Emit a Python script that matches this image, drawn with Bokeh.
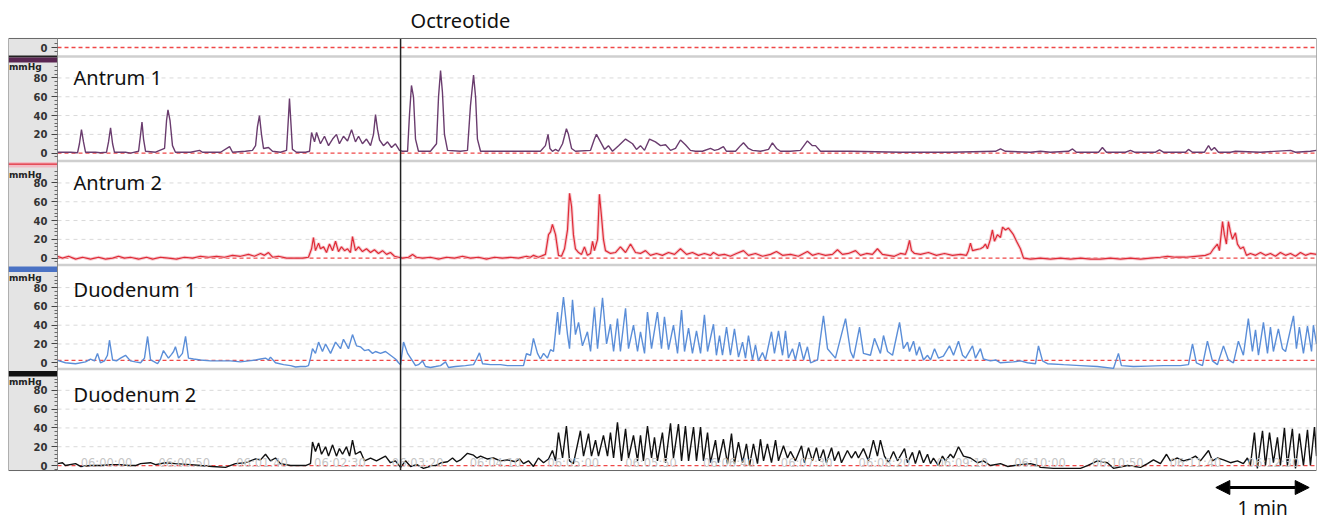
from bokeh.plotting import figure
from bokeh.models import Range1d, FixedTicker, LinearAxis, Arrow, NormalHead
from bokeh.core.properties import value
from bokeh.embed import file_html
from bokeh.resources import INLINE

# ---------------- data (time in s from 06:00:00, pressure in mmHg) ----------------
CHANNELS = ["Antrum 1", "Antrum 2", "Duodenum 1", "Duodenum 2"]
OCTREOTIDE_T = 189.0
SCALE_BAR_T0 = 713.0
SCALE_BAR_LEN = 60.0
TIME_TICKS = [0, 50, 100, 150, 200, 250, 300, 350, 400, 450, 500, 550, 600, 650, 700, 750]
TIME_LABELS = ["06:00:00", "06:00:50", "06:01:40", "06:02:30", "06:03:20", "06:04:10",
               "06:05:00", "06:05:50", "06:06:40", "06:07:30", "06:08:20", "06:09:10",
               "06:10:00", "06:10:50", "06:11:40", "06:12:30"]
Y_TICKS = [0, 20, 40, 60, 80]
ZERO_REF = [0, 0, 2.5, 0]

ANTRUM1 = [(-31.5,1),(-23.1,1),(-18.6,0.5),(-17.4,10),(-16.1,25),(-14.8,12),(-13.5,1),(-7.1,1),(-3.9,0.5),(0.0,1),(1.3,12),(2.6,27),(3.9,10),(5.1,1),(12.2,1),(15.4,0),(20.6,2),(21.9,20),(22.8,33),(23.8,15),(25.1,2),(31.5,1),(37.3,5),(38.6,35),(39.5,46),(40.8,35),(42.4,8),(44.3,1),(54.0,1),(59.8,3),(61.7,1),(73.3,1),(79.1,7),(81.0,1),(89.3,2),(93.8,3),(95.8,8),(97.0,28),(98.3,40),(99.6,20),(100.9,5),(104.1,6),(106.7,2),(111.8,1),(115.7,3),(117.0,40),(117.6,58),(118.6,30),(119.5,4),(122.1,1),(127.9,1),(130.5,2),(131.8,22),(133.7,12),(135.0,22),(137.5,10),(140.1,18),(142.7,8),(145.3,15),(147.8,20),(149.7,10),(152.3,18),(154.9,13),(157.5,25),(160.0,12),(162.0,18),(164.5,10),(167.1,15),(169.7,8),(171.6,20),(172.9,41),(174.2,25),(175.5,14),(178.0,8),(180.6,12),(183.2,6),(185.7,10),(188.3,3),(190.2,2),(193.5,2),(194.7,40),(196.0,72),(197.3,60),(198.6,15),(200.5,2),(208.2,2),(212.1,10),(213.4,60),(214.7,88),(215.9,65),(217.2,20),(219.2,3),(227.5,2),(232.0,3),(233.9,50),(235.9,83),(237.2,60),(238.4,15),(240.4,2),(253.2,2),(278.9,2),(282.1,8),(283.8,20),(285.0,5),(286.6,2),(288.6,4),(290.5,2),(293.1,10),(295.6,26),(296.9,20),(298.9,5),(301.4,2),(311.1,3),(313.6,15),(314.9,20),(317.5,12),(320.1,4),(322.6,8),(325.2,2),(329.1,8),(333.6,15),(338.1,10),(340.6,4),(343.2,8),(345.8,3),(349.0,15),(352.8,12),(356.1,8),(359.3,9),(362.5,3),(365.7,5),(368.9,14),(372.1,9),(375.3,3),(378.5,2),(383.0,2),(388.2,5),(390.8,3),(393.3,4),(396.5,7),(398.5,2),(404.3,2),(407.5,8),(409.4,11),(412.6,5),(415.2,3),(420.3,2),(425.5,4),(428.0,11),(430.6,5),(433.2,2),(439.6,2),(446.0,3),(450.5,13),(453.7,8),(455.7,8),(458.9,2),(478.2,2),(510.3,1),(542.4,1),(571.4,2),(574.6,4.5),(577.8,2),(593.9,1),(600.3,2),(606.7,1),(618.3,2),(620.9,4.5),(623.4,1),(637.6,1),(640.1,6),(642.7,1),(654.9,1),(658.1,3),(660.7,1),(674.2,1),(676.8,3.5),(679.3,1),(693.5,1),(695.4,4),(698.0,1),(705.7,1),(708.3,8),(710.2,3),(712.1,6),(714.7,1),(722.4,1),(725.6,2),(741.7,1),(761.0,3),(764.2,1),(773.8,2),(777.7,3)]

ANTRUM2 = [(-31.5,2),(-28.3,0),(-24.4,2),(-19.9,-1),(-15.4,1),(-10.3,-1),(-5.1,1),(-0.6,-1),(3.9,0),(7.7,2),(11.6,0),(15.4,1),(20.6,-1),(25.7,1),(29.6,-1),(34.7,1),(39.8,0),(45.0,-1),(50.1,1),(55.3,0),(60.4,2),(65.6,1),(70.7,2),(75.8,1),(81.0,3),(86.1,2),(91.3,4),(95.1,2),(99.0,5),(101.5,3),(104.1,6),(106.7,1),(110.5,2),(115.7,0),(121.5,0),(126.0,0),(129.8,1),(131.8,10),(133.0,22),(134.3,8),(136.3,16),(137.5,10),(139.5,12),(141.4,6),(143.3,15),(145.3,8),(147.2,18),(149.1,7),(151.0,12),(153.0,8),(154.9,10),(156.8,6),(158.1,23),(160.0,8),(162.0,12),(164.5,7),(167.1,10),(169.7,6),(172.2,9),(174.8,5),(177.4,8),(180.0,4),(182.5,6),(185.1,2),(187.7,1),(190.2,0),(194.1,1),(196.7,4),(199.2,1),(203.1,0),(208.2,1),(213.4,-1),(218.5,1),(223.7,0),(228.8,2),(233.9,0),(239.1,1),(244.2,-1),(249.4,1),(254.5,0),(259.7,1),(264.8,0),(269.9,2),(272.5,1),(274.4,3),(277.6,1),(282.1,4),(284.1,25),(285.4,28),(286.6,36),(288.6,25),(290.5,3),(292.4,2),(294.4,10),(296.3,30),(297.6,69),(298.9,55),(300.1,25),(301.4,10),(303.4,6),(305.3,4),(307.2,12),(309.1,3),(311.1,5),(312.4,18),(313.6,8),(315.6,20),(316.8,68),(318.1,45),(319.4,20),(320.7,8),(323.9,5),(327.1,6),(330.3,12),(333.6,6),(336.8,15),(340.0,6),(343.2,5),(346.4,8),(349.6,3),(353.5,5),(357.3,3),(361.2,6),(365.1,4),(368.9,10),(372.8,4),(376.6,6),(380.5,3),(384.3,5),(388.2,3),(390.1,6),(393.3,3),(397.2,4),(401.0,2),(404.9,5),(409.4,8),(412.6,3),(417.1,5),(421.6,2),(426.8,4),(430.6,7),(434.5,3),(439.6,4),(444.7,2),(450.5,7),(453.7,3),(457.6,5),(462.1,3),(466.6,4),(469.8,9),(473.0,4),(476.9,5),(481.4,8),(484.6,3),(488.5,5),(492.3,4),(495.5,10),(498.7,4),(502.6,3),(506.4,2),(510.3,5),(513.5,4),(514.8,10),(516.1,19),(517.4,8),(519.3,5),(523.2,4),(528.3,6),(533.4,3),(538.6,5),(543.7,3),(548.9,4),(552.7,3),(554.0,8),(555.3,16),(556.6,8),(559.1,9),(561.7,10),(563.6,12),(564.9,15),(566.2,10),(568.1,20),(569.4,30),(570.7,18),(572.6,25),(574.6,22),(575.9,33),(577.8,30),(579.7,32),(581.6,28),(582.9,25),(584.9,18),(587.4,10),(589.4,0),(593.9,-1),(600.3,0),(606.7,-1),(613.1,0),(619.6,-1),(626.0,0),(632.4,-1),(638.8,-1),(645.3,0),(651.7,-1),(658.1,0),(664.6,-1),(671.0,0),(677.4,1),(681.9,2),(687.0,1),(693.5,1),(699.9,2),(706.3,3),(709.5,5),(711.5,10),(714.0,15),(715.3,8),(717.3,39),(718.5,25),(719.8,15),(721.1,39),(722.4,28),(723.7,20),(725.6,27),(726.9,15),(728.8,10),(730.7,12),(732.7,3),(735.2,5),(738.5,3),(741.7,6),(744.9,3),(748.1,5),(751.3,2),(754.5,6),(757.8,3),(761.0,5),(764.2,2),(767.4,6),(770.6,3),(773.8,5),(777.7,4)]

DUODENUM1 = [(-31.5,2.5),(-26.4,0),(-19.9,-1),(-13.5,1),(-10.3,4),(-7.7,2),(-5.8,10),(-3.9,0),(-1.3,2),(0.6,8),(1.9,24),(3.9,3),(6.4,2),(9.0,5),(12.2,8),(15.4,2),(18.6,1),(21.9,0),(24.4,5),(26.4,28),(28.3,3),(30.8,1),(32.8,-1),(34.7,4),(36.6,13),(38.6,8),(39.8,5),(41.8,9),(43.1,12),(44.3,17),(46.3,5),(48.8,10),(50.8,28),(52.7,5),(55.9,4),(60.4,3),(66.8,2),(73.3,2),(79.7,2),(86.1,1),(91.3,2),(95.8,3),(99.0,4),(102.2,5),(104.1,3),(105.4,6),(108.6,0),(113.8,-2),(118.3,-3),(121.5,-4.5),(124.7,-4),(127.9,-4),(129.8,-3),(131.1,5),(132.4,15),(134.3,10),(136.3,22),(138.8,12),(140.8,20),(144.0,10),(147.2,22),(150.4,15),(152.3,25),(155.5,15),(158.1,30),(160.7,18),(163.2,17),(165.8,13),(168.4,14),(171.0,10),(172.9,12),(176.1,10),(179.3,12),(182.5,8),(185.7,4),(187.7,0),(189.0,-2),(190.9,22),(193.5,10),(196.7,2),(198.6,-3),(200.5,-2),(203.1,2),(205.0,-4),(208.2,-5),(211.5,-4),(214.7,-3),(217.9,1),(219.8,-5),(224.3,-4),(230.7,-3),(235.9,-2),(237.8,4),(239.7,10.6),(241.7,-1),(246.8,-2),(253.2,-2),(257.7,-3),(262.9,-3),(268.0,-3),(269.9,9.6),(272.5,8),(274.4,26),(277.0,10),(278.9,4),(280.9,10),(283.4,5),(285.4,14),(287.3,12),(289.9,54),(291.1,30),(293.7,70),(296.3,30),(297.6,15),(299.5,67),(301.4,30),(303.4,43),(305.9,18),(309.1,33),(311.1,12),(313.6,59),(315.6,15),(318.8,69),(321.4,20),(323.9,41),(325.9,12),(328.4,47),(330.3,12),(333.6,58),(335.5,15),(338.7,40),(341.3,12),(343.2,33),(345.8,10),(347.7,54),(350.3,15),(354.1,54),(356.7,15),(358.6,49),(361.2,14),(364.4,40),(367.0,10),(369.6,56),(371.5,12),(374.1,37),(376.6,10),(379.2,34),(381.8,10),(384.3,51),(386.3,12),(390.1,41),(392.0,8),(394.0,29),(395.9,8),(398.5,38),(401.0,8),(403.6,36),(406.2,6),(408.8,22),(410.7,5),(412.6,29),(415.2,3),(417.1,19),(419.0,2),(421.6,11),(423.5,3),(427.4,33),(429.3,10),(431.9,34),(434.5,8),(436.4,34),(438.3,5),(440.9,15),(442.8,3),(445.4,22),(448.0,3),(450.5,17),(452.5,0),(457.0,3),(460.8,50),(463.4,15),(468.5,5),(475.0,47),(478.2,12),(480.1,5),(484.0,38),(486.5,10),(491.0,8),(493.6,26),(497.4,10),(499.4,29),(502.0,12),(505.2,8),(509.7,43),(512.2,15),(514.8,22),(516.1,12),(518.7,23),(520.6,8),(522.5,17),(525.1,3),(527.7,8),(529.6,3),(532.2,15),(534.7,5),(537.9,7),(541.8,18),(544.4,8),(547.6,23),(550.2,8),(552.1,5),(556.6,18),(558.5,5),(561.7,15),(563.6,4),(568.1,2),(571.4,3),(574.6,0),(582.9,1),(587.4,2),(591.9,0),(597.1,-1),(599.0,18),(601.6,2),(604.8,-1),(615.1,-2),(626.0,-3),(636.9,-4),(647.2,-6),(650.4,10),(652.3,-3),(660.1,-4),(669.1,-3.5),(679.3,-3),(690.3,-3),(695.4,-2),(698.0,20),(700.5,0),(704.4,-3),(707.6,23),(710.8,2),(714.0,-2),(717.9,18),(721.1,3),(724.3,0),(727.5,23),(730.7,8),(733.9,47),(736.5,12),(738.5,35),(740.4,8),(743.6,43),(746.2,10),(748.1,38),(750.0,12),(753.2,36),(755.8,15),(757.8,12),(762.9,50),(764.8,15),(766.7,38),(769.3,10),(771.9,39),(774.5,12),(775.7,40),(777.7,20)]

DUODENUM2 = [(-31.5,2),(-28.3,3),(-26.4,0),(-19.9,2),(-16.7,-1),(-10.3,0),(-3.9,0),(2.6,1),(9.0,1),(14.1,0),(18.6,0),(21.9,2),(28.3,3),(31.5,1),(37.9,3),(44.3,2),(54.0,1),(60.4,0),(68.1,-1),(76.5,-2),(82.9,2),(89.3,3),(92.5,5),(95.8,7),(99.0,6),(102.2,12),(105.4,5),(108.6,8),(111.8,2),(118.3,0),(127.9,0),(131.1,2),(132.4,25),(134.3,15),(136.3,24),(138.2,12),(140.8,20),(142.7,10),(145.3,22),(147.8,10),(149.7,18),(151.7,12),(154.2,20),(156.2,10),(158.1,27),(160.0,12),(163.2,15),(165.8,5),(169.7,8),(173.5,5),(179.3,10),(182.5,3),(185.7,5),(189.0,-2),(192.2,5),(195.4,-1),(199.5,1),(203.7,-3),(207.6,-1),(211.5,0),(215.3,3),(219.2,4),(222.4,8),(225.0,4),(227.5,6),(232.0,13),(235.9,11),(238.0,8),(240.4,10),(244.6,7),(248.7,8),(253.2,5),(257.7,6),(262.9,4),(265.5,7),(268.0,2),(271.2,5),(274.4,-1),(277.6,8),(280.9,3),(284.1,7),(286.6,16),(288.6,5),(290.5,35),(293.1,8),(295.6,42),(297.6,5),(300.1,2),(304.6,37),(306.6,10),(309.8,34),(311.7,10),(314.3,27),(316.2,10),(319.4,32),(322.0,10),(323.9,35),(325.9,8),(328.4,46),(331.0,5),(333.6,39),(335.5,8),(338.7,32),(341.3,5),(343.2,32),(345.1,5),(347.7,42),(350.3,8),(352.2,30),(354.1,5),(357.3,35),(359.3,3),(362.5,45),(364.4,8),(367.6,44),(369.6,5),(372.1,42),(374.1,5),(377.3,41),(379.2,5),(381.8,41),(383.7,5),(386.3,35),(388.2,3),(391.4,27),(393.3,3),(396.5,28),(399.1,2),(401.7,34),(403.6,2),(406.2,25),(408.8,3),(411.3,23),(413.3,0),(415.8,23),(418.4,2),(420.3,28),(422.3,5),(424.8,23),(427.4,3),(430.0,27),(431.9,5),(435.1,21),(437.7,8),(439.6,15),(442.8,5),(446.7,21),(448.6,3),(451.2,19),(453.7,5),(456.3,19),(458.2,5),(460.8,17),(462.7,3),(466.0,19),(467.9,5),(470.5,15),(472.4,3),(476.2,16),(478.8,8),(481.4,15),(483.3,8),(486.5,18),(489.7,5),(492.9,27),(495.5,10),(497.4,27),(500.0,10),(502.6,3),(505.8,15),(508.4,5),(512.9,18),(514.8,3),(518.0,14),(519.9,2),(522.5,16),(525.1,3),(527.7,12),(529.6,2),(531.5,8),(534.7,0),(537.3,10),(539.2,5),(542.4,12),(544.4,8),(547.6,20),(550.8,10),(555.3,8),(559.8,3),(563.6,5),(568.1,0),(574.6,2),(579.1,-1),(587.4,1),(593.9,2),(598.4,0),(600.3,-2),(608.6,-3),(617.6,-3),(626.0,-3),(630.5,0),(636.9,5),(643.3,3),(647.2,-3),(656.2,0),(664.6,-2),(669.1,2),(672.9,6),(677.4,2),(681.3,12),(683.8,5),(688.3,8),(692.2,5),(696.7,7),(699.9,10),(703.1,5),(708.3,16),(710.8,5),(714.0,8),(717.9,6),(722.4,3),(726.9,5),(730.7,2),(733.3,8),(735.2,0),(737.8,35),(739.7,-3),(743.0,37),(744.9,0),(747.5,35),(750.0,3),(752.6,30),(754.5,0),(757.1,40),(759.0,0),(762.2,39),(764.2,-3),(766.7,34),(769.3,0),(771.9,38),(773.8,0),(776.4,41),(777.7,10)]

SERIES = [ANTRUM1, ANTRUM2, DUODENUM1, DUODENUM2]

# ---------------- layout / style ----------------
LABEL_FONT = "Noto Sans"
SCALE_FONT = "DejaVu Sans"
X0, X1 = -31.5, 777.7            # visible time window of the traces (s)
PANEL_LEFT = -63.0                # left edge of the grey scale panel (time units)
YMAX = 459.6                      # top of the chart box (stacked display units)
Y_LO, Y_HI = -55.3, 500.0         # whole canvas height
OFFSETS = [337.6, 225.9, 114.6, 5.3]
TOP_ZERO = 450.0
SEPARATORS = [440.4, 329.3, 218.6, 108.0]
COLORS = ["#6a3c6e", "#e02a36", "#5b8ed8", "#111111"]
BAR_COLORS = ["#222222", "#5a2652", "#f2bcc6", "#4a72c4", "#111111"]
BAR_LO = [439.4, 434.0, 322.3, 211.2, 100.0]
BAR_HI = [441.6, 439.4, 328.2, 217.0, 105.9]
NAME_LEVEL = [80.5, 80, 78, 76]
MMHG_LEVEL = [92, 89, 90, 89]

p = figure(width=1318, height=522, output_backend="svg", toolbar_location=None,
           x_range=Range1d(PANEL_LEFT, X1), y_range=Range1d(Y_LO, Y_HI),
           min_border_left=8, min_border_right=2, min_border_top=0, min_border_bottom=0,
           x_axis_location=None, y_axis_location=None, title=None)
p.grid.visible = False
p.outline_line_color = None
p.background_fill_color = "#ffffff"
p.border_fill_color = "#ffffff"

# grey scale panel at left + channel colour bars
p.quad(left=[PANEL_LEFT], right=[X0], bottom=[0], top=[YMAX],
       fill_color="#e4e4e4", line_color=None)
p.quad(left=[PANEL_LEFT] * len(BAR_LO), right=[X0] * len(BAR_LO), bottom=BAR_LO, top=BAR_HI,
       fill_color=BAR_COLORS, line_color=None)
p.quad(left=[PANEL_LEFT], right=[X0], bottom=[325.4], top=[326.6],
       fill_color="#e02a36", line_color=None)

# dashed grid, zero references, channel separators
grid_y = [off + k for off in OFFSETS for k in Y_TICKS[1:]]
p.segment(x0=[X0] * len(grid_y), x1=[X1] * len(grid_y), y0=grid_y, y1=grid_y,
          line_color="#d9d9d9", line_width=1, line_dash="4 4")
zero_y = [TOP_ZERO] + [off + z for off, z in zip(OFFSETS, ZERO_REF)]
p.segment(x0=[X0] * len(zero_y), x1=[X1] * len(zero_y), y0=zero_y, y1=zero_y,
          line_color="#f04848", line_width=1.3, line_dash="4 3")
p.segment(x0=[X0] * len(SEPARATORS), x1=[X1] * len(SEPARATORS), y0=SEPARATORS, y1=SEPARATORS,
          line_color="#cfcfcf", line_width=2.5)

# traces
for i, (ser, off, col) in enumerate(zip(SERIES, OFFSETS, COLORS)):
    ts = [a for a, b in ser]
    ps = [off + b for a, b in ser]
    if i == 1:
        p.line(ts, ps, line_color="#f3bfc6", line_width=3.2, line_alpha=0.8)
    p.line(ts, ps, line_color=col, line_width=1.4 if i != 1 else 1.2)

# time stamps inside the bottom channel
p.text(x=TIME_TICKS, y=[OFFSETS[3] + 3.2] * len(TIME_TICKS), text=TIME_LABELS,
       text_align="center", text_baseline="middle", text_color="#c6c6c6",
       text_font=value(SCALE_FONT), text_font_size="11.5px")

# channel names
p.text(x=[-21.2] * 4, y=[o + l for o, l in zip(OFFSETS, NAME_LEVEL)], text=CHANNELS,
       text_align="left", text_baseline="middle", text_color="#111111",
       text_font=value(LABEL_FONT), text_font_size="20px")

# mmHg labels in the scale panel
p.text(x=[PANEL_LEFT + 0.3] * 4, y=[o + l for o, l in zip(OFFSETS, MMHG_LEVEL)], text=["mmHg"] * 4,
       text_align="left", text_baseline="middle", text_color="#222222",
       text_font=value(SCALE_FONT), text_font_size="9px", text_font_style="bold")

# octreotide marker
p.segment(x0=[OCTREOTIDE_T], x1=[OCTREOTIDE_T], y0=[0], y1=[YMAX], line_color="#222222", line_width=1.5)
p.text(x=[OCTREOTIDE_T], y=[478.7], text=["Octreotide"], x_offset=10,
       text_align="left", text_baseline="middle", text_color="#111111",
       text_font=value(LABEL_FONT), text_font_size="20px")

# chart box outline
p.quad(left=[PANEL_LEFT], right=[X1], bottom=[0], top=[YMAX], fill_color=None,
       line_color="#666666", line_width=1)
p.segment(x0=[X0], x1=[X0], y0=[0], y1=[YMAX], line_color="#888888", line_width=1)

# 1 min scale bar
p.add_layout(Arrow(x_start=SCALE_BAR_T0, x_end=SCALE_BAR_T0 + SCALE_BAR_LEN, y_start=-18.1, y_end=-18.1,
                   start=NormalHead(size=14, fill_color="black", line_color="black"),
                   end=NormalHead(size=14, fill_color="black", line_color="black"),
                   line_width=3, line_color="black"))
p.text(x=[SCALE_BAR_T0 + SCALE_BAR_LEN / 2], y=[-39.8], text=["1 min"],
       text_align="center", text_baseline="middle", text_color="#111111",
       text_font=value(LABEL_FONT), text_font_size="19px")

# pressure scale: a real axis fixed at the left edge of the trace area
majors = [TOP_ZERO]
overrides = {TOP_ZERO: "0"}
minors = [TOP_ZERO - 4, TOP_ZERO + 4]
for off in OFFSETS:
    for k in Y_TICKS:
        t = round(off + k, 1)
        majors.append(t)
        overrides[t] = str(k)
    for k in range(-4, 96, 4):
        if k % 20:
            minors.append(round(off + k, 1))
ya = LinearAxis(fixed_location=X0, ticker=FixedTicker(ticks=majors, minor_ticks=minors),
                major_label_overrides=overrides)
ya.axis_line_color = None
ya.major_tick_out = 6
ya.major_tick_in = 0
ya.minor_tick_out = 3
ya.minor_tick_in = 0
ya.major_tick_line_color = "#444444"
ya.minor_tick_line_color = "#666666"
ya.major_label_text_font = SCALE_FONT
ya.major_label_text_font_size = "10px"
ya.major_label_text_font_style = "bold"
ya.major_label_text_color = "#333333"
ya.major_label_standoff = 4
p.add_layout(ya, "left")

open("out.html", "w").write(file_html(p, INLINE))
